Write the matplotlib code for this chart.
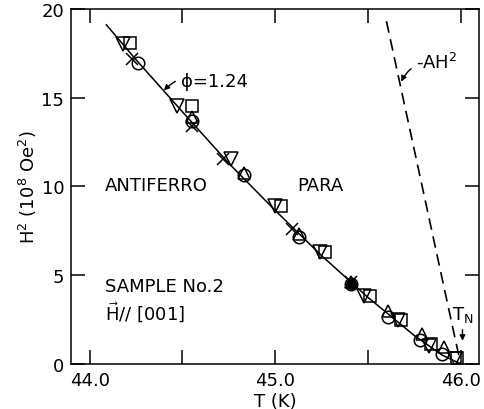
import matplotlib
matplotlib.use("Agg")
import matplotlib.pyplot as plt

plt.rcParams['font.family'] = ['DejaVu Sans']

# ---- data ----
sq_T = [44.215, 44.55, 45.03, 45.27, 45.51, 45.68, 45.84, 45.98]
sq_H = [18.1, 14.55, 8.9, 6.3, 3.85, 2.5, 1.1, 0.35]

dn_T = [44.18, 44.47, 44.76, 45.00, 45.24, 45.48, 45.66, 45.83, 45.97]
dn_H = [18.0, 14.5, 11.55, 8.9, 6.3, 3.85, 2.5, 1.0, 0.3]

up_T = [44.55, 44.83, 45.13, 45.41, 45.61, 45.79, 45.91]
up_H = [13.9, 10.75, 7.3, 4.6, 3.0, 1.7, 0.95]

ci_T = [44.26, 44.55, 44.83, 45.13, 45.41, 45.61, 45.78, 45.90]
ci_H = [16.95, 13.7, 10.65, 7.15, 4.5, 2.65, 1.35, 0.55]

x_T = [44.23, 44.55, 44.72, 45.09, 45.41]
x_H = [17.2, 13.4, 11.55, 7.6, 4.6]

fill_T = [45.41]
fill_H = [4.5]

fit_T = [44.09, 44.25, 44.5, 44.75, 45.0, 45.25, 45.5, 45.75, 45.9, 46.0]
fit_H = [19.1, 17.13, 14.2, 11.3, 8.65, 6.1, 3.75, 1.6, 0.5, 0.0]

ah_T = [45.60, 46.0]
ah_H = [19.3, 0.0]

xticks = [44.0, 44.5, 45.0, 45.5, 46.0]
xticklabels = ['44.0', '', '45.0', '', '46.0']
yticks = [0, 5, 10, 15, 20]

fig = plt.figure(figsize=(4.84, 4.10), dpi=100)
ax = fig.add_axes([0.147, 0.110, 0.843, 0.866])

ax.plot(fit_T, fit_H, color='black', lw=1.1)
ax.plot(ah_T, ah_H, color='black', lw=1.2, ls=(0, (7, 4)))

mk = dict(ls='none', mfc='none', mec='black', mew=1.1)
ax.plot(sq_T, sq_H, marker='s', ms=9, **mk)
ax.plot(dn_T, dn_H, marker='v', ms=10, **mk)
ax.plot(up_T, up_H, marker='^', ms=9, **mk)
ax.plot(ci_T, ci_H, marker='o', ms=9, **mk)
ax.plot(x_T, x_H, marker='x', ms=8, **mk)
ax.plot(fill_T, fill_H, marker='o', ms=7, ls='none', color='black')

ax.set_xlim(43.9, 46.1)
ax.set_ylim(0, 20)
ax.set_xticks(xticks)
ax.set_xticklabels(xticklabels)
ax.set_yticks(yticks)
ax.tick_params(direction='in', length=10, width=1.1, top=True, right=True,
               labelsize=13, pad=5)
for s in ax.spines.values():
    s.set_linewidth(1.1)

ax.set_xlabel('T (K)', fontsize=13, labelpad=2)
ax.set_ylabel('H$^2$ (10$^8$ Oe$^2$)', fontsize=13, labelpad=2)

ax.text(44.08, 10.05, 'ANTIFERRO', fontsize=13, va='center', ha='left')
ax.text(45.12, 10.05, 'PARA', fontsize=13, va='center', ha='left')
ax.text(44.08, 4.4, 'SAMPLE No.2', fontsize=13, va='center', ha='left')
ax.text(44.08, 2.95, r'$\vec{\mathrm{H}}$// [001]', fontsize=13, va='center', ha='left')

ax.annotate('ϕ=1.24', xy=(44.40, 15.4), xytext=(44.49, 15.95),
            fontsize=13, va='center', ha='left',
            arrowprops=dict(arrowstyle='-|>', color='black', lw=1.0,
                            connectionstyle='arc3,rad=0.35', shrinkA=2, shrinkB=0,
                            mutation_scale=8))
ax.annotate('-AH$^2$', xy=(45.68, 15.9), xytext=(45.76, 17.0),
            fontsize=13, va='center', ha='left',
            arrowprops=dict(arrowstyle='-|>', color='black', lw=1.0,
                            connectionstyle='arc3,rad=0.35', shrinkA=2, shrinkB=0,
                            mutation_scale=8))
ax.annotate('T$_\\mathrm{N}$', xy=(46.01, 1.3), xytext=(46.01, 2.8),
            fontsize=13, va='center', ha='center',
            arrowprops=dict(arrowstyle='-|>', color='black', lw=1.0,
                            shrinkA=2, shrinkB=0, mutation_scale=8))

fig.savefig('out.png', dpi=100)
